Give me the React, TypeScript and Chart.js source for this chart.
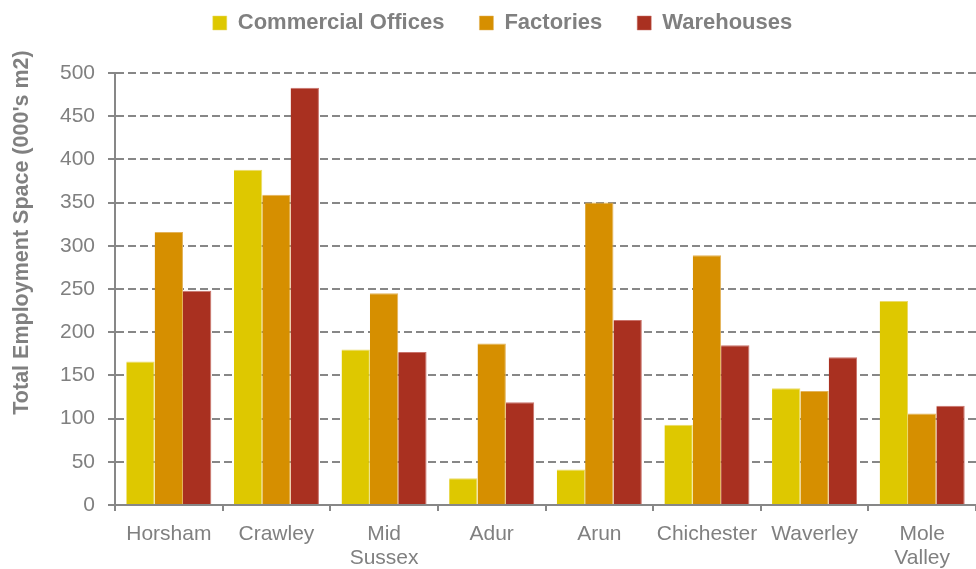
import React, { useEffect, useRef } from "react";
import { Chart, registerables } from "chart.js";

Chart.register(...registerables);

const categories: (string | string[])[] = [
  "Horsham",
  "Crawley",
  ["Mid", "Sussex"],
  "Adur",
  "Arun",
  "Chichester",
  "Waverley",
  ["Mole", "Valley"],
];

const seriesNames = ["Commercial Offices", "Factories", "Warehouses"];
const officesValues = [166, 388, 180, 31, 41, 93, 135, 236];
const factoriesValues = [316, 359, 245, 187, 350, 289, 132, 106];
const warehousesValues = [248, 483, 177, 119, 214, 185, 171, 115];
const seriesColors = ["#DEC800", "#D68F00", "#A93020"];
const seriesEdgeColors = ["#EBDB6A", "#E3B35A", "#C9726A"];

const yMin = 0;
const yMax = 500;
const yStep = 50;
const yAxisTitle = "Total Employment Space (000's m2)";

const FONT = '"Liberation Sans", Arial, sans-serif';
const TEXT_GRAY = "#808080";
const LINE_GRAY = "#878787";

export default function App() {
  const canvasRef = useRef<HTMLCanvasElement>(null);

  useEffect(() => {
    const canvas = canvasRef.current;
    if (!canvas) return;

    const legendHeightPlugin = {
      id: "legendHeight",
      beforeLayout(chart: any) {
        const lg = chart.legend;
        if (lg && !lg.__patched) {
          const orig = lg.fit.bind(lg);
          lg.fit = () => {
            orig();
            lg.height = 96;
          };
          lg.__patched = true;
        }
      },
    };

    const yTitlePlugin = {
      id: "yTitle",
      afterDraw(chart: any) {
        const ctx = chart.ctx;
        ctx.save();
        ctx.translate(22, 232.5);
        ctx.rotate(-Math.PI / 2);
        ctx.font = `bold 21.5px ${FONT}`;
        ctx.fillStyle = TEXT_GRAY;
        ctx.textAlign = "center";
        ctx.textBaseline = "middle";
        ctx.fillText(yAxisTitle, 0, 0);
        ctx.restore();
      },
    };

    const values = [officesValues, factoriesValues, warehousesValues];

    const chart = new Chart(canvas, {
      type: "bar",
      data: {
        labels: categories as any,
        datasets: seriesNames.map((name, i) => ({
          label: name,
          data: values[i],
          backgroundColor: seriesColors[i],
          borderColor: seriesEdgeColors[i],
          borderWidth: { top: 1, right: 1, left: 0, bottom: 0 },
          categoryPercentage: 0.79,
          barPercentage: 1.0,
        })),
      },
      options: {
        responsive: false,
        animation: false,
        devicePixelRatio: 1,
        layout: { padding: { top: -23, left: 26, right: -3, bottom: 0 } },
        plugins: {
          legend: {
            display: true,
            position: "top",
            labels: {
              boxWidth: 14,
              boxHeight: 14,
              padding: 35,
              color: TEXT_GRAY,
              font: { family: FONT, size: 22, weight: "bold" },
            },
          },
          tooltip: { enabled: false },
          title: { display: false },
        },
        scales: {
          x: {
            offset: true,
            grid: {
              display: true,
              offset: true,
              drawOnChartArea: false,
              drawTicks: true,
              tickLength: 6,
              color: LINE_GRAY,
              lineWidth: 2,
            },
            border: { display: true, color: LINE_GRAY, width: 2 },
            ticks: {
              color: TEXT_GRAY,
              font: { family: FONT, size: 21, lineHeight: 1.15 },
              padding: 11,
              maxRotation: 0,
              autoSkip: false,
            },
            afterFit(scale: any) {
              scale.height = 64;
            },
          },
          y: {
            min: yMin,
            max: yMax,
            grid: {
              display: true,
              color: LINE_GRAY,
              lineWidth: 2,
              drawTicks: true,
              tickLength: 7,
            },
            border: { display: true, color: LINE_GRAY, width: 2, dash: [8, 4] },
            ticks: {
              stepSize: yStep,
              color: TEXT_GRAY,
              padding: 13,
              font: { family: FONT, size: 21 },
            },
            afterFit(scale: any) {
              scale.width = 89;
            },
          },
        },
      } as any,
      plugins: [legendHeightPlugin, yTitlePlugin],
    });

    return () => chart.destroy();
  }, []);

  return (
    <div style={{ position: "fixed", left: 0, top: 0, width: 976, height: 569, background: "#fff" }}>
      <canvas ref={canvasRef} width={976} height={569} style={{ width: 976, height: 569, display: "block" }} />
    </div>
  );
}
